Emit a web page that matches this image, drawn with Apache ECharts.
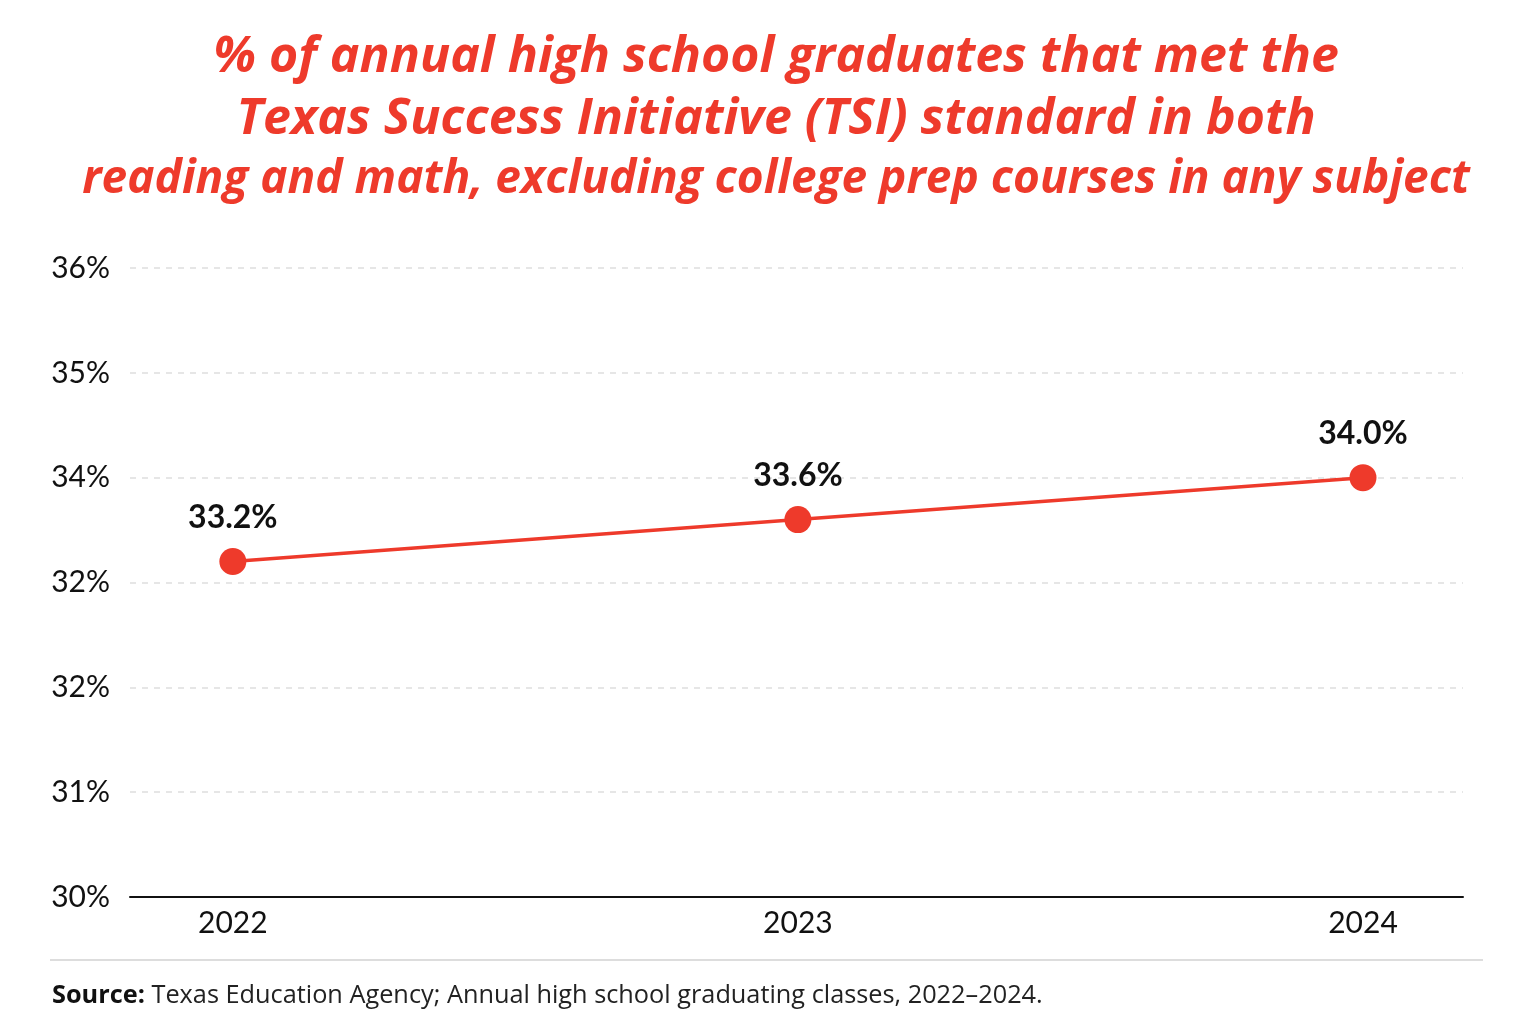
<!DOCTYPE html>
<html>
<head>
<meta charset="utf-8">
<script src="https://cdn.jsdelivr.net/npm/echarts@6/dist/echarts.min.js"></script>
<style>
  html, body { margin: 0; padding: 0; background: #ffffff; }
  #chart { width: 1536px; height: 1024px; }
</style>
</head>
<body>
<div id="chart"></div>
<script>
const years = [2022, 2023, 2024];
const values = [33.2, 33.6, 34.0];
const yTickValues = [30, 31, 32, 33, 34, 35, 36];
const yTickLabels = ['30%', '31%', '32%', '32%', '34%', '35%', '36%'];
const titleLines = [
  '% of annual high school graduates that met the',
  'Texas Success Initiative (TSI) standard in both',
  'reading and math, excluding college prep courses in any subject'
];
const sourceBold = 'Source:';
const sourceText = ' Texas Education Agency; Annual high school graduating classes, 2022\u20132024.';

const chart = echarts.init(document.getElementById('chart'));
const FONT = 'Lato, "Noto Sans", sans-serif';
const TFONT = '"Open Sans", Lato, sans-serif';
const RED = '#ee3a2b';
const titleSizes = [50, 50, 46];
const titleY = [58, 120, 180];

chart.setOption({
  backgroundColor: '#ffffff',
  animation: false,
  title: [{
    text: '{b|' + sourceBold + '}{r|' + sourceText + '}',
    left: 47,
    top: 978,
    textStyle: {
      rich: {
        b: { fontSize: 25.3, fontWeight: 'bold', color: '#111', fontFamily: TFONT },
        r: { fontSize: 25.3, fontWeight: 'normal', color: '#222', fontFamily: TFONT }
      }
    }
  }],
  graphic: [
    {
      type: 'line',
      shape: { x1: 50, y1: 960, x2: 1483, y2: 960 },
      style: { stroke: '#dddddd', lineWidth: 2 }
    }
  ].concat(titleLines.map((t, i) => ({
    type: 'text',
    x: 776,
    y: titleY[i],
    style: {
      text: t,
      fill: RED,
      font: 'italic 700 ' + titleSizes[i] + 'px ' + TFONT,
      textAlign: 'center',
      textVerticalAlign: 'middle'
    }
  }))),
  grid: { left: 130, right: 73, top: 268, bottom: 127, containLabel: false },
  xAxis: {
    type: 'value',
    min: 2021.818,
    max: 2024.177,
    axisLine: { show: true, lineStyle: { color: '#111', width: 2 } },
    axisTick: { show: false },
    splitLine: { show: false },
    axisLabel: {
      customValues: years,
      formatter: v => String(v),
      fontSize: 30,
      color: '#111',
      fontFamily: FONT,
      margin: 11
    }
  },
  yAxis: {
    type: 'value',
    min: 30,
    max: 36,
    interval: 1,
    axisLine: { show: false },
    axisTick: { show: false },
    splitLine: { show: true, lineStyle: { color: '#dedede', type: [6, 6], width: 1.5 } },
    axisLabel: {
      formatter: v => yTickLabels[yTickValues.indexOf(Math.round(v))],
      fontSize: 30,
      color: '#111',
      fontFamily: FONT,
      margin: 20
    }
  },
  series: [{
    type: 'line',
    data: years.map((y, i) => [y, values[i]]),
    symbol: 'circle',
    symbolSize: 27,
    lineStyle: { color: RED, width: 3.5 },
    itemStyle: { color: RED },
    label: {
      show: true,
      position: 'top',
      distance: 14,
      formatter: p => p.value[1].toFixed(1) + '%',
      fontSize: 32,
      fontWeight: 'bold',
      color: '#111',
      fontFamily: FONT
    }
  }]
});
</script>
</body>
</html>
